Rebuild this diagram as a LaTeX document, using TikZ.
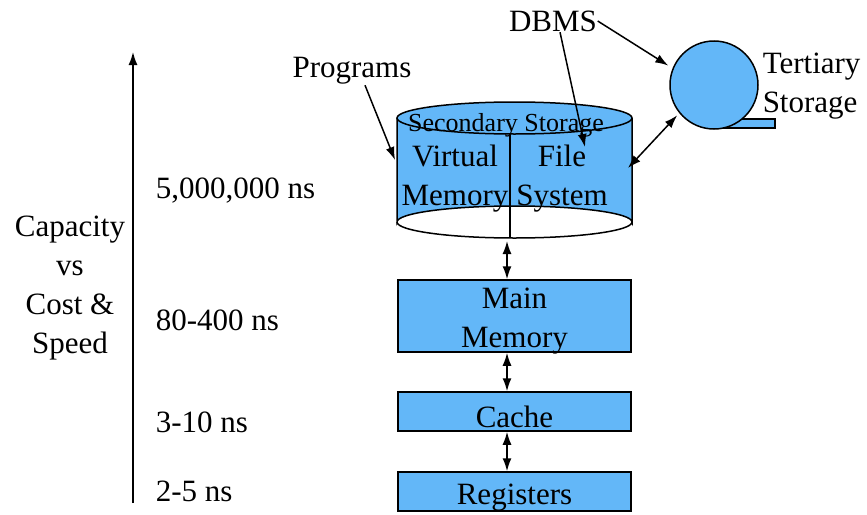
\documentclass[tikz,border=0pt]{standalone}
\usepackage{fontspec}
\setmainfont{Liberation Serif}
\usepackage{xcolor}
\definecolor{memblue}{RGB}{99,183,248}
\usepackage{tikz}
\usetikzlibrary{positioning}
\usetikzlibrary{arrows.meta}

\begin{document}
\begin{tikzpicture}[x=1pt,y=-1pt,line width=1.5pt,
  lbl/.style={inner sep=0pt,font=\fontsize{31}{39}\selectfont,align=center},
  level/.style={draw,fill=memblue,minimum width=233pt,minimum height=#1,inner sep=0pt},
  tip/.style={-{Latex[length=13pt,width=9pt]}},
  dtip/.style={{Latex[length=13pt,width=9pt]}-{Latex[length=13pt,width=9pt]}}]
\useasboundingbox (0,0) rectangle (867,514);
% axis and its labels
\coordinate (axbot) at (133,503);
\coordinate (axtop) at (133,52);
\draw[tip] (axbot) -- (axtop);
\node[lbl] (capvs) at (70,288) {Capacity\\vs\\Cost \&\\Speed};
\node[lbl,anchor=west] (t1) at (155,191) {5,000,000 ns};
\node[lbl,anchor=west] (t2) at (155,320) {80-400 ns};
\node[lbl,anchor=west] (t3) at (155,422) {3-10 ns};
\node[lbl,anchor=west] (t4) at (155,491) {2-5 ns};
% secondary storage cylinder
\draw[fill=memblue] (397,118) -- (397,222) arc[start angle=180,end angle=360,x radius=117.5,y radius=16] -- (632,118);
\draw (397,222) arc[start angle=180,end angle=0,x radius=117.5,y radius=16];
\draw[fill=memblue] (514.5,118) ellipse[x radius=117.5,y radius=16];
\draw (510,134) -- (510,238);
\node[lbl,font=\fontsize{26}{30}\selectfont] (secst) at (506,125) {Secondary Storage};
\node[lbl] (virt) at (455,179) {Virtual\\Memory};
\node[lbl] (files) at (562,179) {File\\System};
% memory levels
\node[level=72pt] (mainmem) at (514.5,316) {};
\node[level=39pt] (cache) at (514.5,411.5) {};
\node[level=39pt] (regs) at (514.5,491.5) {};
\node[lbl] (mainlbl) at ([yshift=-5pt]mainmem.center) {Main\\Memory};
\node[lbl] (cachelbl) at ([yshift=-5pt]cache.center) {Cache};
\node[lbl] (regslbl) at ([yshift=-6pt]regs.center) {Registers};
\coordinate (secbot) at (507,241);
\draw[dtip] (secbot) -- (mainmem.north -| secbot);
\draw[dtip] ([xshift=-7.5pt]mainmem.south) -- ([xshift=-7.5pt]cache.north);
\draw[dtip] ([xshift=-7.5pt]cache.south) -- ([xshift=-7.5pt]regs.north);
% tertiary storage
\draw[fill=memblue] (714,119) rectangle (775,128);
\node[circle,draw,fill=memblue,minimum size=88pt,inner sep=0pt] (tape) at (714,85) {};
\node[lbl,align=left,anchor=west] (tert) at (762,86) {Tertiary\\Storage};
\coordinate (cylright) at (628,168);
\draw[dtip,shorten >=3pt] (cylright) -- (tape.219);
% callouts
\node[lbl] (dbms) at (553,21) {DBMS};
\node[lbl] (progs) at (352,71) {Programs};
\coordinate (fileend) at (585,147);
\coordinate (progend) at (395,160);
\draw[tip,shorten >=5pt] (dbms.east) -- (tape.158);
\draw[tip] ([xshift=7pt]dbms.south) -- (fileend);
\draw[tip] ([xshift=13pt]progs.south) -- (progend);
\end{tikzpicture}
\end{document}
